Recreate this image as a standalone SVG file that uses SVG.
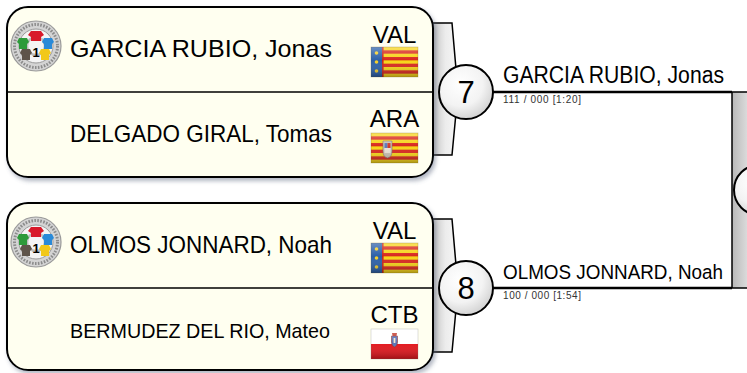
<svg xmlns="http://www.w3.org/2000/svg" xmlns:xlink="http://www.w3.org/1999/xlink" width="747" height="373" viewBox="0 0 747 373">
<defs>
<style>
.box{fill:#fffff0;stroke:#000;stroke-width:2}
.div{stroke:#000;stroke-width:1.6}
.t{font-family:"Liberation Sans",Arial,sans-serif;fill:#000}
.name{font-size:24px}
.code{font-size:24px;text-anchor:middle}
.win{font-size:23px}
.score{font-size:10px;fill:#333}
.num{font-size:31px;text-anchor:middle}
.bracket{fill:url(#bracketGrad);stroke:#000;stroke-width:1.5}
.circ{fill:url(#circGrad);stroke:#000;stroke-width:2}
.line{stroke:#000;stroke-width:2.5;fill:none}
</style>
<linearGradient id="bracketGrad" x1="0" y1="0" x2="1" y2="0">
<stop offset="0" stop-color="#bdbdbd"/>
<stop offset="0.55" stop-color="#ececec"/>
<stop offset="1" stop-color="#f7f7f7"/>
</linearGradient>
<linearGradient id="vbarGrad" x1="0" y1="0" x2="1" y2="0">
<stop offset="0" stop-color="#b8b8b8"/>
<stop offset="0.5" stop-color="#e6e6e6"/>
<stop offset="1" stop-color="#f6f6f6"/>
</linearGradient>
<radialGradient id="circGrad" cx="0.4" cy="0.35" r="0.75">
<stop offset="0" stop-color="#ffffff"/>
<stop offset="0.55" stop-color="#f3f3f3"/>
<stop offset="1" stop-color="#c9c9c9"/>
</radialGradient>
<linearGradient id="flagShade" x1="0" y1="0" x2="0" y2="1">
<stop offset="0" stop-color="#fff" stop-opacity="0.3"/>
<stop offset="0.45" stop-color="#fff" stop-opacity="0"/>
<stop offset="1" stop-color="#000" stop-opacity="0.3"/>
</linearGradient>
<filter id="shadow" x="-5%" y="-5%" width="112%" height="115%">
<feGaussianBlur in="SourceAlpha" stdDeviation="2"/>
<feOffset dx="2" dy="3" result="b"/>
<feFlood flood-color="#55607a" flood-opacity="0.45"/>
<feComposite in2="b" operator="in"/>
<feMerge><feMergeNode/><feMergeNode in="SourceGraphic"/></feMerge>
</filter>
<g id="stripes">
<rect width="47" height="30" fill="#f7d417"/>
<rect y="3.33" width="47" height="3.33" fill="#d8261c"/>
<rect y="10" width="47" height="3.33" fill="#d8261c"/>
<rect y="16.67" width="47" height="3.33" fill="#d8261c"/>
<rect y="23.33" width="47" height="3.33" fill="#d8261c"/>
</g>
<g id="flagVAL">
<use xlink:href="#stripes"/>
<rect width="11" height="30" fill="#2b5fa8"/>
<rect x="11" width="1.6" height="30" fill="#c8231a"/>
<circle cx="5.5" cy="6" r="1.8" fill="#f5cf2a"/>
<circle cx="5.5" cy="15" r="1.8" fill="#f5cf2a"/>
<circle cx="5.5" cy="24" r="1.8" fill="#f5cf2a"/>
<rect width="47" height="30" fill="url(#flagShade)" stroke="#6b5a2a" stroke-opacity="0.4" stroke-width="0.6"/>
</g>
<g id="flagARA">
<use xlink:href="#stripes"/>
<path d="M12,8 h9 v10 q0,6 -4.5,7 q-4.5,-1 -4.5,-7 z" fill="#c9c0b4" stroke="#7a6f66" stroke-width="0.6"/>
<rect x="13.5" y="10" width="3" height="5" fill="#5a7bbd"/>
<rect x="16.5" y="10" width="3" height="5" fill="#d03a2a"/>
<rect x="13.5" y="15" width="6" height="5" fill="#e9e2d6"/>
<rect width="47" height="30" fill="url(#flagShade)" stroke="#6b5a2a" stroke-opacity="0.4" stroke-width="0.6"/>
</g>
<g id="flagCTB">
<rect width="47" height="15" fill="#ffffff"/>
<rect y="15" width="47" height="15" fill="#e3151b"/>
<path d="M20.5,7 h6 v6 q0,4 -3,5 q-3,-1 -3,-5 z" fill="#5a74b8" stroke="#8a2a2a" stroke-width="0.6"/>
<path d="M21,4 h5 l-0.6,3 h-3.8 z" fill="#c0392b"/>
<rect x="22.6" y="9" width="1.8" height="5" fill="#f0e6d0"/>
<rect width="47" height="30" fill="url(#flagShade)" stroke="#777" stroke-opacity="0.4" stroke-width="0.6"/>
</g>
<g id="emblem">
<circle r="25" fill="#d4d4d4" stroke="#9a9a9a" stroke-width="1.2"/>
<circle r="21.5" fill="none" stroke="#8c8c8c" stroke-width="3" stroke-dasharray="1.6 1.4"/>
<circle r="17" fill="#f4f4f4" stroke="#9a9a9a" stroke-width="1"/>
<circle r="9" fill="none" stroke="#bdbdbd" stroke-width="2.5"/>
<path d="M-5,-15 h10 l3,4 l-3,2 v4 h-10 v-4 l-3,-2 z" fill="#d8192a"/>
<path d="M8,-8 h8 l2,4 l-2,2 v5 h-8 v-5 l-2,-2 z" fill="#2a8ad8"/>
<path d="M5,3 h8 l2,4 l-2,2 v5 h-8 v-5 l-2,-2 z" fill="#f2c81a"/>
<path d="M-14,3 h8 l2,4 l-2,2 v5 h-8 v-5 l-2,-2 z" fill="#5e544a"/>
<path d="M-17,-8 h8 l2,4 l-2,2 v5 h-8 v-5 l-2,-2 z" fill="#2d9a3a"/>
<text class="t" x="0" y="11" font-size="13" font-weight="bold" text-anchor="middle">1</text>
</g>
</defs>

<rect width="747" height="373" fill="#ffffff"/>

<g id="connectors">
<path class="bracket" d="M430,23 L452,23 L458,92 L452,155 L430,155 Z"/>
<path class="bracket" d="M430,219 L452,219 L458,288 L452,352 L430,352 Z"/>
<line class="line" x1="480" y1="92" x2="732" y2="92"/>
<line class="line" x1="480" y1="288" x2="732" y2="288"/>
<rect x="732" y="92" width="40" height="196" fill="url(#vbarGrad)" stroke="#000" stroke-width="1.5"/>
</g>

<g id="match7-box">
<rect class="box" x="7" y="7" width="426" height="170" rx="21" filter="url(#shadow)"/>
<line class="div" x1="7" y1="92" x2="433" y2="92"/>
<use xlink:href="#emblem" x="36" y="46"/>
<text class="t name" x="70" y="57" textLength="262" lengthAdjust="spacingAndGlyphs">GARCIA RUBIO, Jonas</text>
<text class="t code" x="394.5" y="43">VAL</text>
<use xlink:href="#flagVAL" x="371" y="47"/>
<text class="t name" x="70" y="142" textLength="262" lengthAdjust="spacingAndGlyphs">DELGADO GIRAL, Tomas</text>
<text class="t code" x="394.5" y="127">ARA</text>
<use xlink:href="#flagARA" x="371" y="133"/>
</g>

<g id="match8-box">
<rect class="box" x="7" y="203" width="426" height="167" rx="21" filter="url(#shadow)"/>
<line class="div" x1="7" y1="288" x2="433" y2="288"/>
<use xlink:href="#emblem" x="36" y="242"/>
<text class="t name" x="70" y="253" textLength="262" lengthAdjust="spacingAndGlyphs">OLMOS JONNARD, Noah</text>
<text class="t code" x="394.5" y="239">VAL</text>
<use xlink:href="#flagVAL" x="371" y="243"/>
<text class="t" x="70" y="338" font-size="21" textLength="260" lengthAdjust="spacingAndGlyphs">BERMUDEZ DEL RIO, Mateo</text>
<text class="t code" x="394.5" y="323">CTB</text>
<use xlink:href="#flagCTB" x="371" y="329"/>
</g>

<g id="match7">
<circle class="circ" cx="466" cy="92" r="27"/>
<text class="t num" x="466" y="103">7</text>
<text class="t win" x="503" y="83" textLength="221" lengthAdjust="spacingAndGlyphs">GARCIA RUBIO, Jonas</text>
<text class="t score" x="503" y="103" textLength="78" lengthAdjust="spacing">111  / 000  [1:20]</text>
</g>

<g id="match8">
<circle class="circ" cx="466" cy="288" r="27"/>
<text class="t num" x="466" y="299">8</text>
<text class="t" x="503" y="279" font-size="20.5" textLength="220" lengthAdjust="spacingAndGlyphs">OLMOS JONNARD, Noah</text>
<text class="t score" x="503" y="299" textLength="78" lengthAdjust="spacing">100  / 000  [1:54]</text>
</g>

<g id="next-match">
<circle class="circ" cx="759" cy="190" r="25"/>
</g>
</svg>
